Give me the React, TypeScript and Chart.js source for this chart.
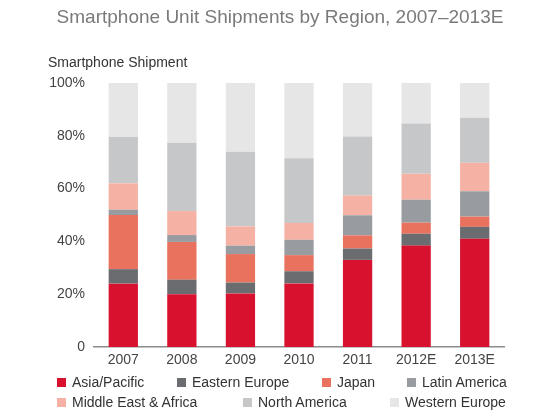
import React, { useEffect, useRef } from "react";
import { Chart, registerables } from "chart.js";

Chart.register(...registerables);

const title = "Smartphone Unit Shipments by Region, 2007–2013E";
const axisTitle = "Smartphone Shipment";

const years = ["2007", "2008", "2009", "2010", "2011", "2012E", "2013E"];
const yTicks = [0, 20, 40, 60, 80, 100];

// share of shipments, %
const asiaPacific = [24, 20, 20.3, 24.1, 33, 38.4, 41];
const easternEurope = [5.5, 5.5, 4.1, 4.6, 4.3, 4.5, 4.5];
const japan = [20.5, 14.3, 10.8, 6.1, 5, 4.2, 3.9];
const latinAmerica = [2, 2.6, 3.2, 5.8, 7.6, 8.7, 9.6];
const middleEastAfrica = [10, 9.1, 7.3, 6.4, 7.5, 9.8, 10.8];
const northAmerica = [17.5, 25.9, 28.3, 24.5, 22.3, 19.1, 17];
const westernEurope = [20.5, 22.7, 26, 28.5, 20.3, 15.3, 13.2];

const regions = [
    "Asia/Pacific",
    "Eastern Europe",
    "Japan",
    "Latin America",
    "Middle East & Africa",
    "North America",
    "Western Europe",
];
const series = [asiaPacific, easternEurope, japan, latinAmerica, middleEastAfrica, northAmerica, westernEurope];
const colors = ["#d8112f", "#6b6c70", "#e9725f", "#989ca1", "#f5b2a4", "#c6c7c9", "#e6e6e7"];

const FONT = "'Liberation Sans', Arial, Helvetica, sans-serif";

// legend layout: left edge of each entry, and its row
const legendLeft = [57, 177, 322, 407, 57, 243, 390];
const legendRow = [0, 0, 0, 0, 1, 1, 1];

const headingPlugin = {
    id: "heading",
    afterDraw(chart: Chart) {
        const { ctx, chartArea } = chart;
        ctx.save();
        ctx.textBaseline = "middle";
        ctx.font = `19px ${FONT}`;
        ctx.fillStyle = "#7a7a7a";
        ctx.textAlign = "center";
        ctx.fillText(title, chart.width / 2 + 5, 18);
        ctx.font = `14px ${FONT}`;
        ctx.fillStyle = "#333333";
        ctx.textAlign = "left";
        ctx.fillText(axisTitle, chartArea.left - 46, 63);
        ctx.restore();
    },
};

const ShipmentChart: React.FC = () => {
    const chartRef = useRef<HTMLCanvasElement | null>(null);
    const chartInstance = useRef<Chart | null>(null);

    useEffect(() => {
        if (chartInstance.current) {
            chartInstance.current.destroy();
        }
        const ctx = chartRef.current?.getContext("2d");
        if (!ctx) return;

        chartInstance.current = new Chart(ctx, {
            type: "bar",
            data: {
                labels: years,
                datasets: regions.map((name, i) => ({
                    label: name,
                    data: series[i],
                    backgroundColor: colors[i],
                    borderWidth: 0,
                    barPercentage: 0.5,
                    categoryPercentage: 1,
                })),
            },
            options: {
                animation: false,
                responsive: true,
                maintainAspectRatio: false,
                layout: {
                    padding: { top: 83, left: 0, right: 46, bottom: 42 },
                },
                plugins: {
                    legend: { display: false },
                    title: { display: false },
                    tooltip: { enabled: false },
                },
                scales: {
                    x: {
                        stacked: true,
                        grid: { display: false, drawTicks: false },
                        border: { display: true, color: "#8c8c8c", width: 1.5 },
                        ticks: {
                            padding: 5,
                            color: "#444444",
                            font: { family: FONT, size: 14 },
                        },
                        afterFit: (scale) => {
                            scale.height = 24;
                        },
                    },
                    y: {
                        stacked: true,
                        min: 0,
                        max: 100,
                        grid: { display: false, drawTicks: false },
                        border: { display: false },
                        afterBuildTicks: (scale) => {
                            scale.ticks = yTicks.map((v) => ({ value: v }));
                        },
                        ticks: {
                            padding: 9,
                            color: "#444444",
                            font: { family: FONT, size: 14 },
                            callback: (value) => (Number(value) === 0 ? "0" : `${value}%`),
                        },
                        afterFit: (scale) => {
                            scale.width = 94;
                        },
                    },
                },
            },
            plugins: [headingPlugin],
        });

        return () => {
            if (chartInstance.current) {
                chartInstance.current.destroy();
                chartInstance.current = null;
            }
        };
    }, []);

    return (
        <div style={{ position: "absolute", left: 0, top: 0, width: 550, height: 413, background: "#fff" }}>
            <canvas ref={chartRef}></canvas>
            {regions.map((name, i) => (
                <div
                    key={name}
                    style={{
                        position: "absolute",
                        left: legendLeft[i],
                        top: 374 + legendRow[i] * 20,
                        height: 16,
                        display: "flex",
                        alignItems: "center",
                        fontFamily: FONT,
                        fontSize: 14,
                        color: "#333333",
                        whiteSpace: "nowrap",
                    }}
                >
                    <span
                        style={{
                            display: "inline-block",
                            width: 9,
                            height: 9,
                            marginRight: 6,
                            background: colors[i],
                        }}
                    />
                    {name}
                </div>
            ))}
        </div>
    );
};

export default function App() {
    return <ShipmentChart />;
}
